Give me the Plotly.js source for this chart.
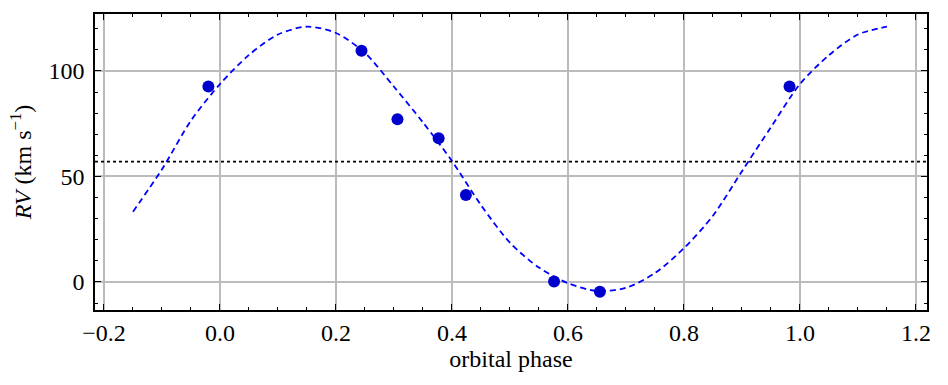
<!DOCTYPE html>
<html>
<head>
<meta charset="utf-8">
<script src="https://cdn.plot.ly/plotly-3.0.1.min.js"></script>
<style>
  body { margin: 0; background: #fff; }
  #rv-plot { width: 948px; height: 385px; }
</style>
</head>
<body>
<div id="rv-plot"></div>
<script>
// Measured radial velocities (orbital phase, km/s)
var obsPhase = [-0.020, 0.244, 0.306, 0.377, 0.424, 0.576, 0.655, 0.982];
var obsRV = [92.6, 109.6, 77.1, 68.1, 41.2, 0.2, -4.6, 92.6];

// Fitted orbit
var fitPhase = [-0.15, -0.10, -0.05, 0.00, 0.05, 0.10, 0.15, 0.20, 0.25, 0.30,
                0.35, 0.40, 0.45, 0.50, 0.55, 0.60, 0.65, 0.70, 0.75, 0.80,
                0.85, 0.90, 0.95, 1.00, 1.05, 1.10, 1.15];
var fitRV = [33.3, 53.4, 76.5, 93.8, 107.6, 117.3, 121.0, 118.0, 108.5, 92.5,
             75.6, 57.3, 36.4, 18.6, 6.8, -0.6, -4.3, -2.8, 4.2, 16.0,
             31.4, 52.5, 73.4, 93.8, 107.5, 117.3, 121.0];

// Systemic velocity (dotted line)
var gammaRV = 57.0;

var font = "Liberation Serif";

var fit = {
  x: fitPhase,
  y: fitRV,
  type: "scatter",
  mode: "lines",
  line: {color: "#0000ff", width: 1.8, dash: "6px,4px", shape: "spline", smoothing: 0.8},
  hoverinfo: "skip"
};

var obs = {
  x: obsPhase,
  y: obsRV,
  type: "scatter",
  mode: "markers",
  marker: {color: "#0000cc", size: 12}
};

var axisCommon = {
  showline: true,
  linecolor: "#000",
  linewidth: 1.5,
  mirror: "allticks",
  ticks: "inside",
  ticklen: 6,
  tickwidth: 1.2,
  tickcolor: "#000",
  showgrid: true,
  gridcolor: "#bcbcbc",
  gridwidth: 1.5,
  zeroline: false,
  tickfont: {family: font, size: 24, color: "#000"}
};

var layout = {
  width: 948,
  height: 385,
  margin: {l: 95, r: 21, t: 14, b: 75},
  paper_bgcolor: "#fff",
  plot_bgcolor: "#fff",
  font: {family: font, size: 24, color: "#000"},
  showlegend: false,
  xaxis: Object.assign({}, axisCommon, {
    range: [-0.2155, 1.219],
    dtick: 0.2,
    tick0: 0,
    tickformat: ".1f",
    minor: {dtick: 0.05, ticks: "inside", ticklen: 3.5, tickwidth: 1, tickcolor: "#000", showgrid: false},
    title: {text: "orbital phase", font: {family: font, size: 24, color: "#000"}, standoff: 6}
  }),
  yaxis: Object.assign({}, axisCommon, {
    range: [-13.3, 127],
    dtick: 50,
    tick0: 0,
    ticklabelstandoff: 4,
    minor: {dtick: 10, ticks: "inside", ticklen: 3.5, tickwidth: 1, tickcolor: "#000", showgrid: false},
    title: {text: "<i>RV</i> (km s<sup>−1</sup>)", font: {family: font, size: 24, color: "#000"}, standoff: 10}
  }),
  shapes: [{
    type: "line",
    xref: "paper",
    x0: 0,
    x1: 1,
    yref: "y",
    y0: gammaRV,
    y1: gammaRV,
    line: {color: "#000", width: 1.8, dash: "dot"}
  }]
};

Plotly.newPlot("rv-plot", [fit, obs], layout, {displayModeBar: false});
</script>
</body>
</html>
